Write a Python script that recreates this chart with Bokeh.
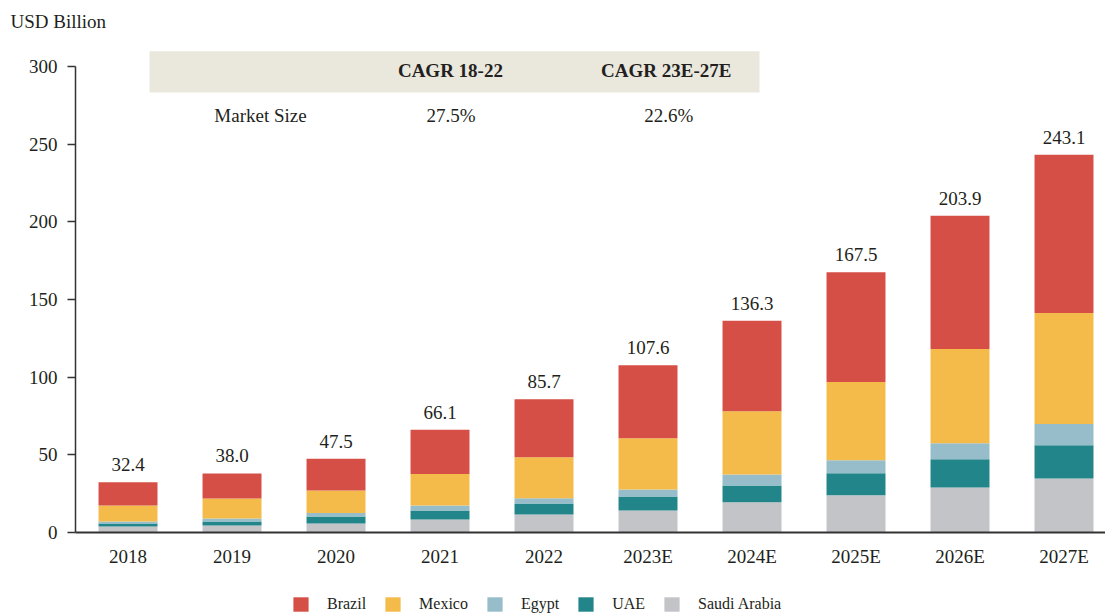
from bokeh.plotting import figure
from bokeh.layouts import column
from bokeh.models import (Range1d, FixedTicker, Label, Legend, LegendItem,
                          BoxAnnotation, ColumnDataSource, Title)
from bokeh.embed import file_html
from bokeh.resources import INLINE

years = ["2018", "2019", "2020", "2021", "2022", "2023E", "2024E", "2025E", "2026E", "2027E"]
totals = [32.4, 38.0, 47.5, 66.1, 85.7, 107.6, 136.3, 167.5, 203.9, 243.1]
saudi = [3.9, 4.5, 5.8, 8.4, 11.6, 14.2, 19.4, 23.9, 29.0, 34.8]
uae = [1.9, 2.6, 4.5, 5.8, 7.1, 9.0, 10.9, 14.2, 18.1, 21.3]
egypt = [1.3, 1.9, 2.2, 3.2, 3.4, 4.5, 7.1, 8.4, 10.3, 13.8]
mexico = [10.3, 12.9, 14.6, 20.2, 26.3, 32.9, 40.7, 50.3, 60.7, 71.4]
brazil = [15.0, 16.1, 20.4, 28.5, 37.3, 47.0, 58.2, 70.7, 85.8, 101.8]
series = ["Saudi Arabia", "UAE", "Egypt", "Mexico", "Brazil"]
colors = ["#C3C4C7", "#22858A", "#97BDCB", "#F4BB4A", "#D64F46"]
cagr_headers = ["CAGR 18-22", "CAGR 23E-27E"]
cagr_values = ["27.5%", "22.6%"]

FONT = "Liberation Serif"
TXT = "#231f20"

idx = list(range(len(years)))
src = ColumnDataSource(dict(x=idx, total=totals, label=[f"{t:.1f}" for t in totals],
                            **{"Saudi Arabia": saudi, "UAE": uae, "Egypt": egypt,
                               "Mexico": mexico, "Brazil": brazil}))

p = figure(width=1105, height=578, output_backend="svg", toolbar_location=None,
           x_range=Range1d(-0.505, 9.399), y_range=Range1d(0, 316.7),
           min_border_left=75, min_border_right=0, min_border_top=40, min_border_bottom=46)
p.outline_line_color = None
p.xgrid.visible = False
p.ygrid.visible = False
p.background_fill_color = "white"

# header band
p.add_layout(BoxAnnotation(left=0.207, right=6.072, bottom=283.3, top=309.7,
                           fill_color="#EAE7DD", fill_alpha=1, line_alpha=0, level="underlay"))

rs = p.vbar_stack(series, x="x", width=0.567, source=src, color=colors, line_width=0)

p.text(x="x", y="total", text="label", source=src, text_align="center",
       text_baseline="bottom", y_offset=-11, text_font_size="19px", text_color=TXT,
       text_font={"value": FONT})

def lab(x, y, t, bold=False, align="center", size="19px"):
    p.add_layout(Label(x=x, y=y, text=t, text_align=align, text_baseline="middle",
                       text_font=FONT, text_font_size=size, text_color=TXT,
                       text_font_style="bold" if bold else "normal"))

lab(3.10, 297.6, cagr_headers[0], bold=True)
lab(5.175, 297.6, cagr_headers[1], bold=True)
lab(1.274, 268.5, "Market Size")
lab(3.105, 268.5, cagr_values[0])
lab(5.20, 268.5, cagr_values[1])

p.add_layout(Title(text="USD Billion", align="left", offset=-65, standoff=17,
                   text_font=FONT, text_font_size="19px", text_font_style="normal",
                   text_color=TXT), "above")

# axes
p.yaxis.ticker = FixedTicker(ticks=[0, 50, 100, 150, 200, 250, 300])
p.yaxis.bounds = (0, 300)
p.yaxis.major_tick_out = 8
p.yaxis.major_tick_in = 0
p.yaxis.minor_tick_line_color = None
p.yaxis.axis_line_color = "#333333"
p.yaxis.axis_line_width = 1.5
p.yaxis.major_tick_line_color = "#333333"
p.yaxis.major_tick_line_width = 1.5
p.yaxis.major_label_standoff = 10
p.yaxis.major_label_text_font = FONT
p.yaxis.major_label_text_font_size = "19px"
p.yaxis.major_label_text_color = TXT

p.xaxis.ticker = FixedTicker(ticks=idx)
p.xaxis.major_label_overrides = {i: y for i, y in zip(idx, years)}
p.xaxis.major_tick_line_color = None
p.xaxis.minor_tick_line_color = None
p.xaxis.major_tick_out = 0
p.xaxis.major_tick_in = 0
p.xaxis.axis_line_color = "#333333"
p.xaxis.axis_line_width = 2
p.xaxis.major_label_standoff = 13
p.xaxis.major_label_text_font = FONT
p.xaxis.major_label_text_font_size = "19px"
p.xaxis.major_label_text_color = TXT

# legend strip (separate small figure so that it is not clipped)
lf = figure(width=1105, height=35, output_backend="svg", toolbar_location=None,
            x_range=Range1d(0, 1), y_range=Range1d(0, 1),
            x_axis_type=None, y_axis_type=None, min_border=0)
lf.outline_line_color = None
lf.xgrid.visible = False
lf.ygrid.visible = False
dummies = [lf.vbar(x=[-5], top=[0], width=0.5, color=c, line_width=0) for c in colors]
items = [LegendItem(label=s, renderers=[r]) for s, r in zip(series, dummies)][::-1]
legend = Legend(items=items, orientation="horizontal", location=(216, 0),
                glyph_width=19, glyph_height=18, label_height=18,
                label_standoff=17, spacing=17,
                padding=0, margin=0, border_line_alpha=0, background_fill_alpha=0,
                label_text_font=FONT, label_text_font_size="16px", label_text_color=TXT)
lf.add_layout(legend)

layout = column(p, lf, spacing=0)
open("out.html", "w").write(file_html(layout, INLINE))
